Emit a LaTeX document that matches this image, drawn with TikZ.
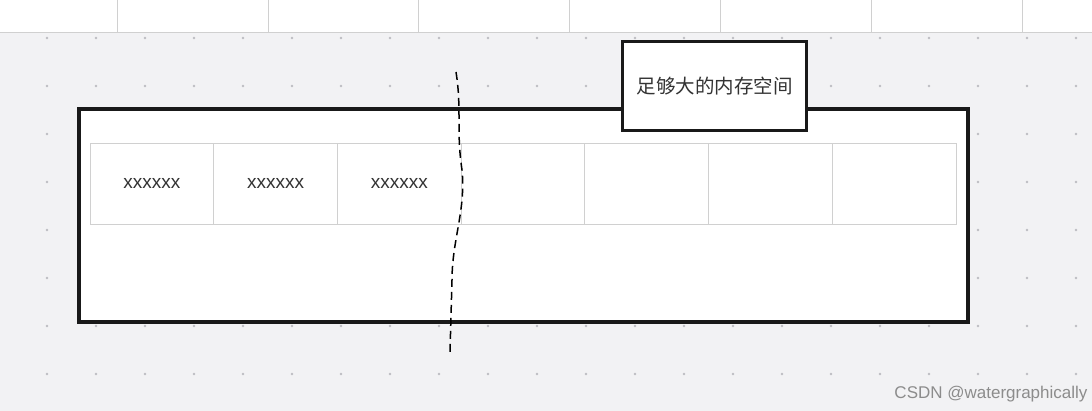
\documentclass[tikz,border=0pt]{standalone}
\usepackage{fontspec}
\setmainfont{Liberation Sans}
\newfontfamily\cjk{Noto Sans CJK SC}
\definecolor{bg}{HTML}{F2F2F4}
\definecolor{dotc}{HTML}{BDBDC2}
\definecolor{cellline}{HTML}{D0D0D0}
\tikzset{cellbox/.style={draw=cellline,line width=0.8pt,fill=white,minimum width=123.7pt,minimum height=81pt,inner sep=0pt,font=\fontsize{19}{22}\selectfont,text=black!80},
 labelbox/.style={draw=black!90,line width=3pt,fill=white,minimum width=184pt,minimum height=89pt,inner sep=0pt,font=\cjk\fontsize{19.5}{22}\selectfont,text=black!80}}
\begin{document}
\begin{tikzpicture}[x=1pt,y=-1pt]
\useasboundingbox (0,0) rectangle (1092,411);
\fill[bg] (0,0) rectangle (1092,411);
\fill[white] (0,0) rectangle (1092,32);
\draw[cellline,line width=0.8pt] (0,32) -- (1092,32);
\foreach \x in {117,268,418,569,720,871,1022} \draw[cellline,line width=0.8pt] (\x,0) -- (\x,32);
\foreach \x in {47,96,145,194,243,292,341,390,439,488,537,586,635,684,733,782,831,880,929,978,1027,1076}
 \foreach \y in {38,86,134,182,230,278,326,374}
  \fill[dotc] (\x,\y) circle (1.4);
\node[draw=black!90,line width=3.2pt,fill=white,minimum width=889pt,minimum height=213pt,inner sep=0pt] (mem) at (523.5,215.5) {};
\foreach \i/\t in {0/xxxxxx,1/xxxxxx,2/xxxxxx,3/,4/,5/,6/}
 \node[cellbox] (c\i) at ({90+123.7*\i+61.85},183.5) {\t};
\node[labelbox] (lab) at (714.5,86) {足够大的内存空间};
\coordinate (s) at (456,72);
\coordinate (e) at (450,352);
\draw[line width=1.5pt,dash pattern=on 8pt off 5pt] (s) .. controls (462,110) and (456,130) .. (462,170) .. controls (466,210) and (452,240) .. (452,280) -- (e);
\node[text=black!45,font=\fontsize{17}{20}\selectfont,anchor=east] (wm) at (1091,394) {CSDN @watergraphically};
\end{tikzpicture}
\end{document}
